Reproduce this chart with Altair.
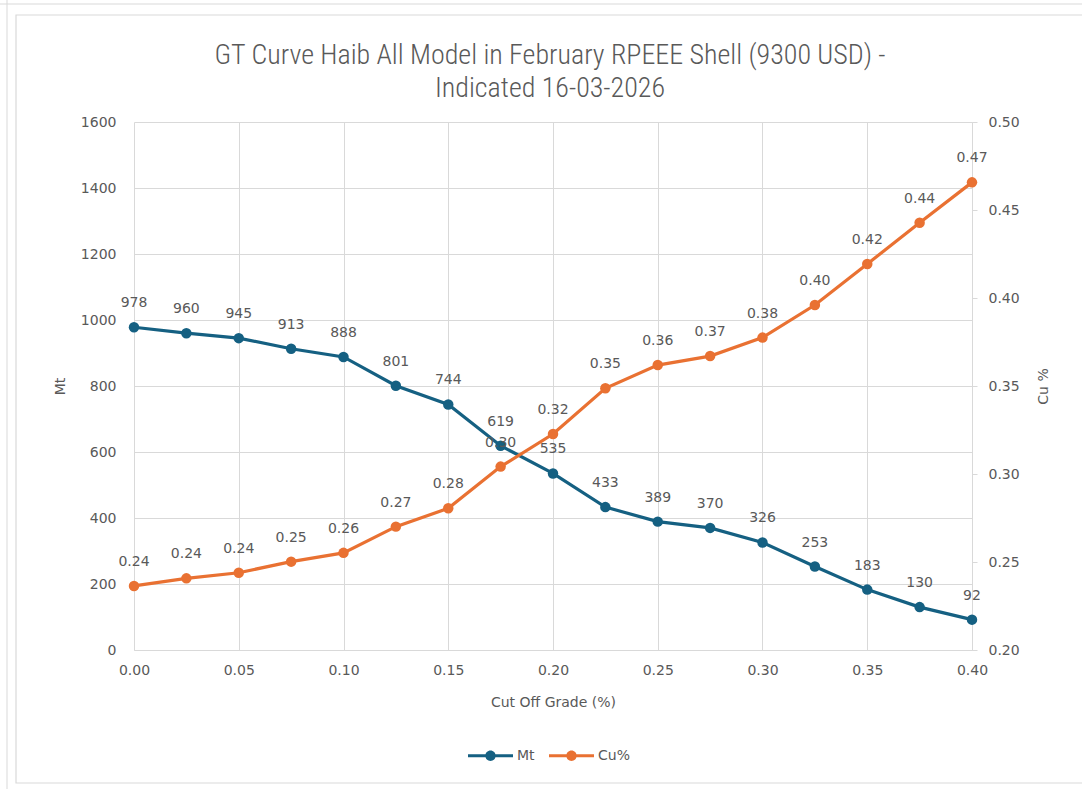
import altair as alt
import pandas as pd

# Grade-tonnage table: cut-off grade (%), tonnage (Mt) and mean grade (Cu %)
cutoff = [0.000, 0.025, 0.050, 0.075, 0.100, 0.125, 0.150, 0.175, 0.200,
          0.225, 0.250, 0.275, 0.300, 0.325, 0.350, 0.375, 0.400]
tonnage_mt = [978, 960, 945, 913, 888, 801, 744, 619, 535,
              433, 389, 370, 326, 253, 183, 130, 92]
grade_cu = [0.2364, 0.2407, 0.2439, 0.2502, 0.2552, 0.2701, 0.2805, 0.3042, 0.3227,
            0.3487, 0.3619, 0.3670, 0.3775, 0.3960, 0.4193, 0.4428, 0.4657]

series_names = ["Mt", "Cu%"]
series_colors = ["#156082", "#E97132"]

title_lines = ["GT Curve Haib All Model in February RPEEE Shell (9300 USD) -",
               "Indicated 16-03-2026"]

mt_df = pd.DataFrame({"cutoff": cutoff, "value": tonnage_mt, "series": "Mt"})
cu_df = pd.DataFrame({"cutoff": cutoff, "value": grade_cu, "series": "Cu%"})

GRID = "#d9d9d9"
TXT = "#595959"
LABEL_FONT = "DejaVu Sans"
TITLE_FONT = "Liberation Sans Narrow, Roboto Condensed, Liberation Sans"

W, H = 838, 528
LEFT, TOP = 134, 122

# legend symbol: short line with a dot in the middle
legend_path = ("M-1,-0.07L1,-0.07L1,0.07L-1,0.07Z "
               "M0.23,0A0.23,0.23,0,1,1,-0.23,0A0.23,0.23,0,1,1,0.23,0Z")

x_enc = alt.X(
    "cutoff:Q",
    scale=alt.Scale(domain=[0, 0.4], nice=False, zero=False),
    axis=alt.Axis(values=[0, 0.05, 0.10, 0.15, 0.20, 0.25, 0.30, 0.35, 0.40],
                  format=".2f", title="Cut Off Grade (%)", grid=True,
                  domain=True, domainColor=GRID, ticks=False, labelPadding=13,
                  labelFlush=False, titleY=52, titleBaseline="middle"),
)

color_enc = alt.Color(
    "series:N",
    scale=alt.Scale(domain=series_names, range=series_colors),
    legend=alt.Legend(title=None, orient="none", direction="horizontal",
                      legendX=334, legendY=611, symbolType=legend_path,
                      symbolSize=2025, symbolStrokeWidth=0, symbolOpacity=1,
                      labelFont=LABEL_FONT, labelFontSize=14, labelColor=TXT,
                      labelOffset=4, columnPadding=14),
)


def series_layer(df, y_enc, fmt):
    base = alt.Chart(df).encode(x=x_enc, y=y_enc)
    line = base.mark_line(strokeWidth=3.2).encode(color=color_enc)
    pts = base.mark_point(filled=True, size=110, opacity=1).encode(color=color_enc)
    labels = base.mark_text(font=LABEL_FONT, fontSize=14, color=TXT,
                            baseline="middle", dy=-24).encode(
        text=alt.Text("value:Q", format=fmt))
    return alt.layer(line, pts, labels)


mt_y = alt.Y("value:Q", scale=alt.Scale(domain=[0, 1600], nice=False),
             axis=alt.Axis(values=list(range(0, 1601, 200)), format="d", title="Mt",
                           grid=True, domain=False, ticks=False, labelPadding=18,
                           labelFlush=False,
                           titleAngle=270, titleX=-74, titleY=H / 2,
                           titleBaseline="middle", titleAlign="center"))
cu_y = alt.Y("value:Q", scale=alt.Scale(domain=[0.2, 0.5], nice=False, zero=False),
             axis=alt.Axis(orient="right", values=[0.20, 0.25, 0.30, 0.35, 0.40, 0.45, 0.50],
                           format=".2f", title="Cu %", grid=False,
                           domain=True, domainColor=GRID, ticks=True, tickColor=GRID,
                           tickSize=5, labelPadding=11, labelFlush=False,
                           titleAngle=270, titleX=71, titleY=H / 2,
                           titleBaseline="middle", titleAlign="center"))

mt_layer = series_layer(mt_df, mt_y, "d")
cu_layer = series_layer(cu_df, cu_y, ".2f")

# outer frame around the chart
frame_data = alt.Data(values=[{"k": 0}])
frame = alt.Chart(frame_data).mark_rect(fill=None, stroke=GRID, strokeWidth=1.2).encode(
    x=alt.value(16 - LEFT), x2=alt.value(1090 - LEFT),
    y=alt.value(15 - TOP), y2=alt.value(783 - TOP))
outer_v = alt.Chart(frame_data).mark_rule(color=GRID, strokeWidth=1).encode(
    x=alt.value(7 - LEFT), y=alt.value(-TOP), y2=alt.value(789 - TOP))
outer_h = alt.Chart(frame_data).mark_rule(color=GRID, strokeWidth=1).encode(
    x=alt.value(-LEFT), x2=alt.value(1082 - LEFT), y=alt.value(4 - TOP))

# two-line chart title, one text mark per line
title_top = alt.Chart(alt.Data(values=[{"t": title_lines[0]}])).mark_text(
    font=TITLE_FONT, fontSize=28, fontWeight=300, color=TXT, align="center",
    baseline="middle"
).encode(text="t:N", x=alt.value(W / 2 - 3), y=alt.value(56 - TOP))
title_bottom = alt.Chart(alt.Data(values=[{"t": title_lines[1]}])).mark_text(
    font=TITLE_FONT, fontSize=28, fontWeight=300, color=TXT, align="center",
    baseline="middle"
).encode(text="t:N", x=alt.value(W / 2 - 3), y=alt.value(89 - TOP))

chart = alt.layer(
    frame, outer_v, outer_h, title_top, title_bottom, mt_layer, cu_layer
).resolve_scale(
    y="independent"
).properties(
    width=W, height=H,
    background="white",
    autosize=alt.AutoSizeParams(type="none"),
    padding={"left": LEFT, "top": TOP, "right": 1082 - LEFT - W, "bottom": 789 - TOP - H},
).configure_view(
    stroke=None
).configure_axis(
    labelFont=LABEL_FONT, labelFontSize=14, labelColor=TXT,
    titleFont=LABEL_FONT, titleFontSize=14, titleColor=TXT, titleFontWeight="normal",
    gridColor=GRID, gridWidth=1
)

chart.save("out.html", embed_options={"renderer": "svg", "actions": False})
